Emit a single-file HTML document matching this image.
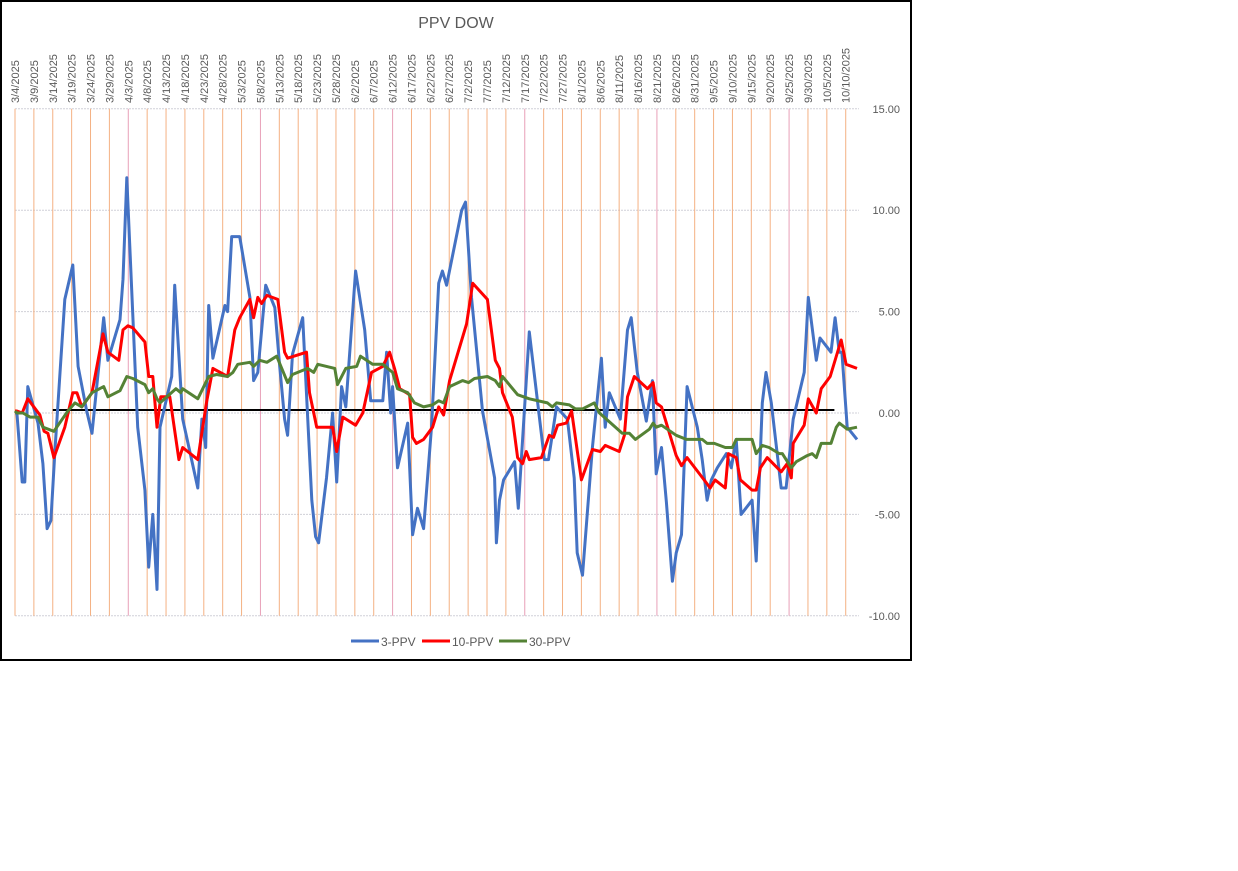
<!DOCTYPE html>
<html><head><meta charset="utf-8"><style>
html,body{margin:0;padding:0;background:#fff;width:1238px;height:871px;overflow:hidden}
svg{font-family:"Liberation Sans",sans-serif}
</style></head><body>
<svg width="1238" height="871">
<rect x="1" y="1" width="910" height="659" fill="#fff" stroke="#000" stroke-width="2"/>
<text x="456" y="28" font-size="16" fill="#595959" text-anchor="middle">PPV DOW</text>
<g id="grid"></g><g id="xlabels"></g><g id="ylabels"></g><g id="series"></g>
<g>
<line x1="351" y1="641" x2="379" y2="641" stroke="#4472C4" stroke-width="3"/>
<text x="381" y="646" font-size="12" fill="#595959">3-PPV</text>
<line x1="422" y1="641" x2="450" y2="641" stroke="#FF0000" stroke-width="3"/>
<text x="452" y="646" font-size="12" fill="#595959">10-PPV</text>
<line x1="499" y1="641" x2="527" y2="641" stroke="#548235" stroke-width="3"/>
<text x="529" y="646" font-size="12" fill="#595959">30-PPV</text>
</g>
</svg>
<script>
const tickDays=[0,5,10,15,20,25,30,35,40,45,50,55,60,65,70,75,80,85,90,95,100,105,110,115,120,125,130,135,140,145,150,155,160,165,170,175,180,185,190,195,200,205,210,215,220];
const tickLabels=["3/4/2025","3/9/2025","3/14/2025","3/19/2025","3/24/2025","3/29/2025","4/3/2025","4/8/2025","4/13/2025","4/18/2025","4/23/2025","4/28/2025","5/3/2025","5/8/2025","5/13/2025","5/18/2025","5/23/2025","5/28/2025","6/2/2025","6/7/2025","6/12/2025","6/17/2025","6/22/2025","6/27/2025","7/2/2025","7/7/2025","7/12/2025","7/17/2025","7/22/2025","7/27/2025","8/1/2025","8/6/2025","8/11/2025","8/16/2025","8/21/2025","8/26/2025","8/31/2025","9/5/2025","9/10/2025","9/15/2025","9/20/2025","9/25/2025","9/30/2025","10/5/2025","10/10/2025"];
const yTicks=[15,10,5,0,-5,-10];
const blueDays=[0,0.5,1.9,2.6,3.4,6.1,7.4,8.5,9.5,10.6,13.2,15.3,16.7,19.0,20.4,23.5,24.6,27.8,28.6,29.6,32.5,34.4,35.4,36.5,37.6,38.4,41.5,42.3,44.4,48.4,49.5,50.5,51.3,52.4,55.6,56.3,57.4,59.5,62.2,63.2,64.3,66.4,68.8,70.1,71.4,72.2,73.5,76.2,78.6,79.6,80.4,82.5,84.1,85.2,86.5,87.6,90.2,92.6,94.2,97.4,98.4,99.5,100.0,101.3,104.0,105.3,106.6,108.2,110.3,112.2,113.2,114.3,118.3,119.3,120.9,123.8,127.0,127.5,128.3,129.4,132.3,133.3,136.2,140.2,141.3,143.4,146.3,148.1,148.9,150.3,152.9,155.3,156.3,157.4,160.3,162.2,163.2,164.8,167.2,168.8,169.8,171.2,172.5,174.1,175.1,176.5,178.0,180.7,182.0,183.3,184.4,186.0,188.4,189.7,191.0,192.3,195.2,196.3,197.9,198.9,200.3,202.9,204.2,206.1,209.0,210.1,212.2,213.2,216.1,217.2,218.3,219.0,220.4,223.0];
const blueVals=[0,0,-3.4,-3.4,1.3,-0.5,-2.5,-5.7,-5.3,-1.8,5.6,7.3,2.3,0.1,-1.0,4.7,2.6,4.6,6.6,11.6,-0.7,-3.8,-7.6,-5.0,-8.7,-0.7,1.8,6.3,-0.3,-3.7,-0.3,-1.7,5.3,2.7,5.3,5.0,8.7,8.7,5.7,1.6,2.0,6.3,5.2,2.3,-0.3,-1.1,2.9,4.7,-4.3,-6.1,-6.4,-3.2,0,-3.4,1.3,0.3,7.0,4.1,0.6,0.6,3.0,0,1.3,-2.7,-0.5,-6.0,-4.7,-5.7,-0.7,6.4,7.0,6.3,10.0,10.4,5.7,0.1,-3.2,-6.4,-4.3,-3.3,-2.4,-4.7,4.0,-2.3,-2.3,0.3,-0.3,-3.2,-6.9,-8.0,-1.7,2.7,-0.7,1.0,-0.3,4.1,4.7,2.0,-0.4,1.6,-3.0,-1.7,-4.4,-8.3,-6.9,-6.0,1.3,-0.7,-2.3,-4.3,-3.3,-2.7,-2.0,-2.7,-1.3,-5.0,-4.3,-7.3,0.5,2.0,0.5,-3.7,-3.7,-0.3,2.0,5.7,2.6,3.7,3.0,4.7,3.0,3.0,-0.7,-1.3];
const redDays=[0,0.5,1.9,3.4,6.6,7.7,8.7,10.3,13.2,15.3,16.4,17.7,20.4,23.3,24.6,27.5,28.6,29.9,31.2,34.4,35.4,36.5,37.6,38.6,41.0,43.4,44.4,48.4,49.7,50.8,52.4,56.3,58.2,59.5,62.2,63.2,64.3,65.3,66.7,69.6,71.4,72.2,77.2,78.0,79.9,84.1,85.2,86.8,90.2,92.1,94.4,97.4,99.2,100.5,101.9,104.5,105.3,106.3,108.2,110.6,112.2,113.5,115.1,119.6,121.2,125.1,127.2,128.3,129.1,131.7,133.1,134.4,135.4,136.2,139.4,141.5,142.6,143.7,146.0,147.4,150.0,152.9,155.0,156.3,160.0,161.4,162.2,164.0,167.5,169.0,169.8,171.2,175.1,176.5,178.0,182.5,184.1,185.4,188.1,188.9,191.0,192.1,195.2,196.3,197.4,199.2,202.9,204.5,205.6,206.1,209.0,210.1,212.2,213.5,215.9,218.8,220.1,223.0];
const redVals=[0.1,0.1,0.0,0.7,-0.1,-0.9,-1.0,-2.2,-0.7,1.0,1.0,0.3,1.0,3.9,3.0,2.6,4.1,4.3,4.2,3.5,1.8,1.8,-0.7,0.8,0.8,-2.3,-1.7,-2.3,-0.7,0.6,2.2,1.8,4.1,4.7,5.6,4.7,5.7,5.4,5.8,5.6,3.0,2.7,3.0,1.0,-0.7,-0.7,-1.9,-0.2,-0.6,0,2.0,2.3,3.0,2.2,1.2,0.9,-1.2,-1.5,-1.3,-0.7,0.3,-0.1,1.6,4.4,6.4,5.6,2.6,2.2,1.0,-0.2,-2.2,-2.5,-1.9,-2.3,-2.2,-1.1,-1.2,-0.6,-0.5,0.1,-3.3,-1.8,-1.9,-1.6,-1.9,-1.1,0.8,1.8,1.2,1.5,0.5,0.3,-2.1,-2.6,-2.2,-3.3,-3.7,-3.3,-3.7,-2.0,-2.2,-3.3,-3.8,-3.8,-2.7,-2.2,-2.9,-2.5,-3.2,-1.5,-0.6,0.7,0,1.2,1.8,3.6,2.4,2.2];
const greenDays=[0,0.5,2.1,4.0,6.1,7.4,10.3,14.0,15.9,17.7,20.4,23.5,24.6,27.8,29.6,31.2,34.4,35.4,36.5,37.6,38.4,42.6,43.9,44.4,48.4,51.3,53.4,56.3,57.7,59.0,62.2,63.2,64.8,66.7,69.3,72.2,73.5,77.5,79.1,80.2,84.7,85.4,87.6,90.5,91.5,94.7,97.4,100.0,101.3,104.0,105.8,108.2,110.6,112.2,113.5,115.1,118.5,120.1,121.7,125.1,127.2,128.3,129.1,133.1,136.2,141.0,142.3,143.4,146.8,148.4,150.3,153.4,154.8,160.8,162.7,164.3,168.0,169.0,169.8,171.2,175.1,177.8,182.0,183.3,185.2,188.1,190.0,191.0,195.2,196.3,197.9,199.7,202.4,203.2,205.6,206.9,209.8,211.1,212.2,213.5,216.1,217.5,218.3,220.4,223.0];
const greenVals=[0.1,0,0,-0.2,-0.2,-0.7,-0.9,0.1,0.5,0.3,1.0,1.3,0.8,1.1,1.8,1.7,1.4,1.0,1.2,0.7,0.5,1.2,1.0,1.2,0.7,1.8,1.9,1.8,2.0,2.4,2.5,2.3,2.6,2.5,2.8,1.5,1.9,2.2,2.0,2.4,2.2,1.4,2.2,2.3,2.8,2.4,2.4,2.0,1.2,1.0,0.5,0.3,0.4,0.6,0.5,1.3,1.6,1.5,1.7,1.8,1.6,1.3,1.8,0.9,0.7,0.5,0.3,0.5,0.4,0.2,0.2,0.5,0,-1.0,-1.0,-1.3,-0.8,-0.5,-0.7,-0.6,-1.1,-1.3,-1.3,-1.5,-1.5,-1.7,-1.7,-1.3,-1.3,-2.0,-1.6,-1.7,-2.0,-2.0,-2.7,-2.4,-2.1,-2.0,-2.2,-1.5,-1.5,-0.7,-0.5,-0.8,-0.7];
const zeroLineDays=[10,217];
const zeroLineVal=0.15;

const NS="http://www.w3.org/2000/svg";
const X0=15, PXD=18.88/5, PL=15, PR=859;
const yOf=v=>413-v*20.28;
const xOf=d=>X0+d*PXD;
function mk(tag,attrs,parent){const e=document.createElementNS(NS,tag);for(const k in attrs)e.setAttribute(k,attrs[k]);parent.appendChild(e);return e;}
const grid=document.getElementById('grid');
yTicks.forEach(v=>{
  const l=mk('line',{x1:PL,x2:PR,y1:yOf(v),y2:yOf(v),stroke:'#d0d0d8','stroke-width':1,'stroke-dasharray':'2,1'},grid);
  
  
});
tickDays.forEach((d,i)=>{
  const l=mk('line',{x1:xOf(d),x2:xOf(d),y1:yOf(15),y2:yOf(-10),stroke:(i%7==6)?'#e8a0b8':'#f4b183','stroke-width':1},grid);
  
  
});
const xl=document.getElementById('xlabels');
tickDays.forEach((d,i)=>{
  const x=xOf(d)+4,y=103;
  const t=mk('text',{x:x,y:y,'font-size':11,fill:'#595959',transform:`rotate(-90 ${x} ${y})`},xl);
  t.textContent=tickLabels[i];
  
  
});
const yl=document.getElementById('ylabels');
yTicks.forEach(v=>{
  const t=mk('text',{x:900,y:yOf(v)+4,'font-size':11,fill:'#595959','text-anchor':'end'},yl);
  t.textContent=v.toFixed(2);
  
  
});
const sg=document.getElementById('series');
const z=mk('line',{x1:xOf(zeroLineDays[0]),x2:xOf(zeroLineDays[1]),y1:yOf(zeroLineVal),y2:yOf(zeroLineVal),stroke:'#000','stroke-width':2},sg);


function series(days,vals,color,name){
  const p=mk('polyline',{points:days.map((d,i)=>xOf(d).toFixed(1)+','+yOf(vals[i]).toFixed(1)).join(' '),fill:'none',stroke:color,'stroke-width':3,'stroke-linejoin':'round'},sg);
  
  
}
series(blueDays,blueVals,'#4472C4','series-3ppv');
series(redDays,redVals,'#FF0000','series-10ppv');
series(greenDays,greenVals,'#548235','series-30ppv');
</script>
</body></html>
